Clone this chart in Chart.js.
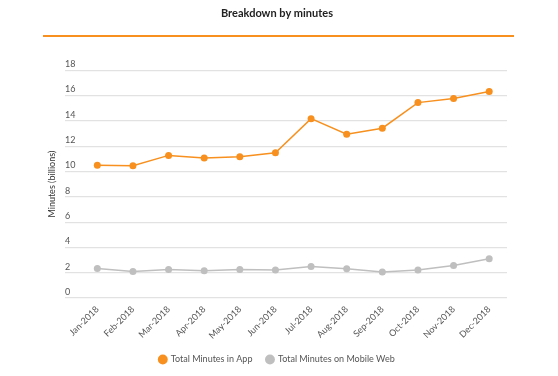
<!DOCTYPE html>
<html>
<head>
<meta charset="utf-8">
<style>
  html, body { margin: 0; padding: 0; background: #fff; }
  #wrap { width: 558px; height: 376px; }
</style>
<script src="https://cdn.jsdelivr.net/npm/chart.js@4/dist/chart.umd.min.js"></script>
</head>
<body>
<div id="wrap"><canvas id="minutesChart" width="558" height="376"></canvas></div>
<script>
"use strict";

// 1: data
const months = ['Jan-2018', 'Feb-2018', 'Mar-2018', 'Apr-2018', 'May-2018', 'Jun-2018',
  'Jul-2018', 'Aug-2018', 'Sep-2018', 'Oct-2018', 'Nov-2018', 'Dec-2018'];
const minutesInApp = [10.5, 10.45, 11.27, 11.06, 11.16, 11.48, 14.17, 12.94, 13.42, 15.44, 15.76, 16.32];
const minutesMobileWeb = [2.34, 2.1, 2.26, 2.15, 2.26, 2.21, 2.5, 2.31, 2.05, 2.21, 2.58, 3.11];
const yTicks = [0, 2, 4, 6, 8, 10, 12, 14, 16, 18];

const ORANGE = '#f7901e';
const GREY = '#bfbfbf';

// orange rule under the heading
const headerRule = {
  id: 'headerRule',
  afterDraw(chart) {
    const ctx = chart.ctx;
    ctx.save();
    ctx.strokeStyle = ORANGE;
    ctx.lineWidth = 2;
    ctx.beginPath();
    ctx.moveTo(43, 36);
    ctx.lineTo(514, 36);
    ctx.stroke();
    ctx.restore();
  }
};

// 2: create the chart
function appendChart() {
  let canvas = document.getElementById('minutesChart');
  Chart.defaults.font.family = 'Lato';
  Chart.defaults.color = '#555';

  let chart = new Chart(canvas, {
    type: 'line',
    data: {
      labels: months,
      datasets: [{
        label: 'Total Minutes in App',
        data: minutesInApp,
        borderColor: ORANGE,
        backgroundColor: ORANGE,
        borderWidth: 1.5,
        pointRadius: 3.5,
        pointBorderWidth: 0,
        pointBackgroundColor: ORANGE
      },
      {
        label: 'Total Minutes on Mobile Web',
        data: minutesMobileWeb,
        borderColor: GREY,
        backgroundColor: GREY,
        borderWidth: 1.5,
        pointRadius: 3.5,
        pointBorderWidth: 0,
        pointBackgroundColor: GREY
      }]
    },
    options: {
      responsive: false,
      animation: false,
      layout: {
        padding: { left: 47, right: 51, top: 0, bottom: 2 }
      },
      plugins: {
        title: {
          display: true,
          text: 'Breakdown by minutes',
          color: '#222',
          font: { size: 11, weight: 'bold' },
          padding: { top: 7, bottom: 50 }
        },
        legend: {
          position: 'bottom',
          labels: {
            usePointStyle: true,
            pointStyle: 'circle',
            boxWidth: 7,
            boxHeight: 7,
            padding: 14,
            color: '#555',
            font: { size: 9 }
          }
        },
        tooltip: { enabled: false }
      },
      scales: {
        x: {
          offset: true,
          grid: { display: false, drawTicks: false },
          border: { display: false },
          afterFit(scale) {
            scale.height -= 6;
          },
          ticks: {
            minRotation: 45,
            maxRotation: 45,
            padding: 6,
            color: '#555',
            font: { size: 9 }
          }
        },
        y: {
          min: 0,
          max: 18,
          afterBuildTicks(scale) {
            scale.ticks = yTicks.map(v => ({ value: v }));
          },
          afterFit(scale) {
            scale.width = 32.5;
          },
          title: {
            display: true,
            text: 'Minutes (billions)',
            color: '#333',
            font: { size: 9 },
            padding: 0
          },
          grid: {
            color: '#e2e2e2',
            lineWidth: 1.2,
            tickLength: 14.5
          },
          border: { display: false },
          ticks: {
            mirror: true,
            padding: -14.5,
            labelOffset: -6,
            color: '#555',
            font: { size: 9 }
          }
        }
      }
    },
    plugins: [headerRule]
  });
}

appendChart();
</script>
</body>
</html>
